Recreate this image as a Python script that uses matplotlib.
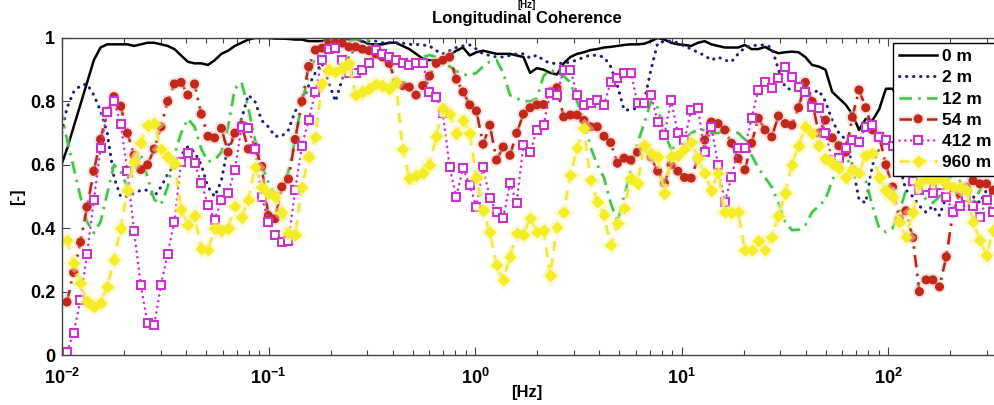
import numpy as np
import matplotlib
matplotlib.use("Agg")
import matplotlib.pyplot as plt
import matplotlib.patheffects as pe
from matplotlib.ticker import FixedLocator, FuncFormatter, LogLocator, NullFormatter

nan = float("nan")

# Frequency bins [Hz]
freq = [0.00981, 0.01057, 0.01139, 0.01228, 0.01323, 0.01426, 0.01537, 0.01656, 0.01785, 0.01924,
        0.02073, 0.02234, 0.02408, 0.02595, 0.02797, 0.03014, 0.03249, 0.03501, 0.03773, 0.04067,
        0.04383, 0.04723, 0.05091, 0.05486, 0.05913, 0.06372, 0.06868, 0.07402, 0.07977, 0.08597,
        0.09266, 0.09979, 0.1075, 0.1159, 0.1249, 0.1346, 0.1451, 0.1564, 0.1685, 0.1816,
        0.1958, 0.2109, 0.2273, 0.2450, 0.2640, 0.2846, 0.3067, 0.3306, 0.3562, 0.3839,
        0.4138, 0.4459, 0.4805, 0.5180, 0.5582, 0.6016, 0.6483, 0.6988, 0.7531, 0.8116,
        0.8747, 0.9427, 1.015, 1.094, 1.179, 1.271, 1.369, 1.476, 1.591, 1.714,
        1.848, 1.992, 2.146, 2.313, 2.493, 2.686, 2.895, 3.120, 3.363, 3.624,
        3.906, 4.210, 4.537, 4.889, 5.270, 5.679, 6.121, 6.596, 7.109, 7.662,
        8.257, 8.899, 9.592, 10.33, 11.13, 12.00, 12.93, 13.93, 15.02, 16.19,
        17.44, 18.80, 20.26, 21.83, 23.53, 25.36, 27.33, 29.46, 31.74, 34.22,
        36.87, 39.74, 42.83, 46.16, 49.74, 53.62, 57.78, 62.27, 67.11, 72.33,
        77.96, 84.01, 90.54, 97.59, 105.1, 113.3, 122.0, 131.6, 141.8, 152.8,
        164.7, 177.4, 191.3, 206.2, 222.1, 239.4, 258.0, 278.1, 299.7, 323.0]

# Coherence for each separation
coh_0m = [0.59, 0.65, 0.72, 0.79, 0.86, 0.93, 0.97, 0.98, 0.98, 0.98,
          0.98, 0.975, 0.98, 0.985, 0.985, 0.98, 0.975, 0.965, 0.945, 0.925,
          0.92, 0.92, 0.915, 0.93, 0.95, 0.96, 0.975, 0.985, 0.995, 1.0,
          1.0, 1.0, 0.998, 0.998, 0.997, 0.995, 0.995, 0.99, 0.99, 0.99,
          0.995, 1.0, 0.998, 0.995, 0.995, 0.99, 0.98, 0.98, 0.98, 0.985,
          0.985, 0.975, 0.965, 0.95, 0.935, 0.93, 0.93, 0.935, 0.945, 0.96,
          0.97, 0.945, 0.955, 0.96, 0.955, 0.95, 0.95, 0.95, 0.945, 0.94,
          0.89, 0.905, 0.9, 0.89, 0.885, 0.92, 0.94, 0.95, 0.955, 0.962,
          0.965, 0.97, 0.972, 0.975, 0.978, 0.98, 0.98, 0.982, 0.99, 1.0,
          0.995, 0.985, 0.98, 0.978, 0.975, 0.985, 0.99, 0.98, 0.975, 0.97,
          0.97, 0.97, 0.978, 0.965, 0.965, 0.972, 0.96, 0.952, 0.955, 0.957,
          0.955, 0.94, 0.915, 0.91, 0.9, 0.83, 0.81, 0.79, 0.76, 0.71,
          0.745, 0.74, 0.775, 0.84, 0.84, 0.8, 0.78, 0.76, 0.77, 0.79,
          0.8, 0.78, 0.76, 0.75, 0.74, 0.76, 0.78, 0.77, 0.75, 0.74]

coh_2m = [0.68, 0.78, 0.83, 0.85, 0.855, 0.82, 0.77, 0.70, 0.56, 0.50,
          0.50, 0.51, 0.52, 0.52, 0.50, 0.53, 0.57, 0.60, 0.63, 0.657,
          0.64, 0.60, 0.53, 0.50, 0.55, 0.66, 0.70, 0.745, 0.82, 0.80,
          0.74, 0.72, 0.69, 0.69, 0.71, 0.77, 0.79, 0.85, 0.89, 0.92,
          0.86, 0.80, 0.87, 0.94, 0.97, 0.99, 0.99, 0.99, 0.985, 0.985,
          0.985, 0.984, 0.98, 0.98, 0.978, 0.975, 0.96, 0.95, 0.96, 0.97,
          0.975, 0.978, 0.965, 0.95, 0.945, 0.94, 0.94, 0.945, 0.95, 0.95,
          0.937, 0.946, 0.93, 0.92, 0.92, 0.92, 0.925, 0.93, 0.94, 0.946,
          0.945, 0.94, 0.91, 0.85, 0.773, 0.773, 0.78, 0.80, 0.90, 0.984,
          0.99, 0.99, 0.985, 0.975, 0.965, 0.955, 0.945, 0.93, 0.94, 0.93,
          0.925, 0.95, 0.97, 0.975, 0.978, 0.978, 0.97, 0.90, 0.845, 0.835,
          0.835, 0.83, 0.826, 0.835, 0.80, 0.74, 0.70, 0.68, 0.60, 0.49,
          0.48, 0.60, 0.65, 0.68, 0.66, 0.60, 0.52, 0.50, 0.47, 0.45,
          0.47, 0.44, 0.50, 0.53, 0.55, 0.52, 0.50, 0.48, 0.52, 0.50]

coh_12m = [0.78, 0.68, 0.59, 0.50, 0.42, 0.385, 0.42, 0.51, 0.60, 0.58,
           0.53, 0.58, 0.635, 0.56, 0.49, 0.475, 0.53, 0.63, 0.70, 0.745,
           0.72, 0.65, 0.61, 0.615, 0.64, 0.72, 0.84, 0.86, 0.78, 0.68,
           0.60, 0.545, 0.505, 0.52, 0.58, 0.68, 0.80, 0.88, 0.94, 0.965,
           0.98, 0.985, 0.99, 0.99, 0.995, 1.0, 0.99, 0.975, 0.96, 0.95,
           0.935, 0.93, 0.925, 0.93, 0.94, 0.946, 0.94, 0.925, 0.91, 0.895,
           0.885, 0.883, 0.89, 0.91, 0.925, 0.93, 0.89, 0.82, 0.81, 0.80,
           0.80, 0.81, 0.88, 0.90, 0.89, 0.88, 0.86, 0.80, 0.74, 0.656,
           0.60, 0.56, 0.48, 0.42, 0.50, 0.584, 0.67, 0.73, 0.80, 0.78,
           0.70, 0.65, 0.66, 0.68, 0.70, 0.71, 0.71, 0.70, 0.70, 0.71,
           0.71, 0.70, 0.68, 0.63, 0.59, 0.56, 0.53, 0.48, 0.42, 0.394,
           0.395, 0.41, 0.45, 0.47, 0.49, 0.55, 0.60, 0.62, 0.60, 0.58,
           0.55, 0.47, 0.40, 0.388, 0.40, 0.45, 0.52, 0.55, 0.52, 0.49,
           0.48, 0.50, 0.55, 0.57, 0.55, 0.50, 0.48, 0.52, 0.55, 0.53]

coh_54m = [nan, 0.167, 0.26, 0.356, 0.467, 0.58, 0.68, 0.765, 0.815, 0.785,
           0.70, 0.63, 0.585, 0.60, 0.65, 0.72, 0.80, 0.855, 0.86, 0.82,
           0.855, 0.76, 0.69, 0.685, 0.715, 0.64, 0.70, 0.725, 0.65, 0.655,
           0.595, 0.44, 0.43, 0.53, 0.555, 0.68, 0.80, 0.91, 0.962, 0.968,
           0.98, 0.984, 0.984, 0.972, 0.972, 0.965, 0.96, 0.95, 0.94, 0.92,
           0.86, 0.85, 0.845, 0.82, 0.85, 0.88, 0.92, 0.93, 0.94, 0.87,
           0.83, 0.789, 0.77, 0.665, 0.725, 0.615, 0.656, 0.63, 0.70, 0.76,
           0.78, 0.789, 0.79, 0.83, 0.843, 0.751, 0.757, 0.757, 0.74, 0.72,
           0.72, 0.69, 0.67, 0.605, 0.621, 0.615, 0.64, 0.656, 0.625, 0.58,
           0.542, 0.60, 0.58, 0.56, 0.558, 0.62, 0.678, 0.735, 0.73, 0.71,
           0.668, 0.62, 0.584, 0.668, 0.747, 0.71, 0.688, 0.754, 0.73, 0.725,
           0.78, 0.86, 0.80, 0.70, 0.741, 0.685, 0.66, 0.64, 0.75, 0.836,
           0.78, 0.71, 0.69, 0.60, 0.53, 0.43, 0.455, 0.37, 0.20, 0.237,
           0.237, 0.215, 0.31, 0.45, 0.51, 0.53, 0.55, 0.54, 0.54, 0.52]

coh_412m = [nan, 0.01, 0.07, 0.173, 0.32, 0.489, 0.653, 0.767, 0.80, 0.73,
            0.58, 0.39, 0.22, 0.10, 0.095, 0.22, 0.32, 0.42, 0.61, 0.637,
            0.605, 0.542, 0.473, 0.426, 0.489, 0.51, 0.584, 0.72, 0.715, 0.65,
            0.50, 0.42, 0.38, 0.356, 0.36, 0.52, 0.66, 0.74, 0.83, 0.93,
            0.965, 0.97, 0.93, 0.89, 0.89, 0.90, 0.92, 0.962, 0.95, 0.94,
            0.93, 0.92, 0.915, 0.92, 0.92, 0.83, 0.815, 0.763, 0.593, 0.50,
            0.59, 0.536, 0.467, 0.593, 0.495, 0.451, 0.432, 0.542, 0.48, 0.662,
            0.64, 0.71, 0.726, 0.826, 0.82, 0.90, 0.90, 0.82, 0.789, 0.795,
            0.804, 0.789, 0.86, 0.874, 0.89, 0.89, 0.795, 0.795, 0.82, 0.735,
            0.694, 0.804, 0.70, 0.678, 0.773, 0.78, 0.64, 0.72, 0.60, 0.483,
            0.56, 0.653, 0.653, 0.748, 0.836, 0.86, 0.843, 0.874, 0.91, 0.877,
            0.846, 0.83, 0.782, 0.779, 0.70, 0.615, 0.62, 0.653, 0.678, 0.672,
            0.72, 0.725, 0.688, 0.678, 0.66, 0.62, 0.58, 0.55, 0.52, 0.53,
            0.51, 0.536, 0.50, 0.45, 0.47, 0.50, 0.47, 0.435, 0.489, 0.45]

coh_960m = [nan, 0.363, 0.29, 0.227, 0.17, 0.152, 0.165, 0.215, 0.30, 0.40,
            0.52, 0.61, 0.67, 0.725, 0.73, 0.65, 0.625, 0.605, 0.46, 0.41,
            0.44, 0.335, 0.331, 0.40, 0.394, 0.40, 0.47, 0.435, 0.489, 0.593,
            0.53, 0.51, 0.50, 0.45, 0.385, 0.379, 0.53, 0.625, 0.688, 0.857,
            0.90, 0.893, 0.905, 0.92, 0.82, 0.83, 0.84, 0.855, 0.85, 0.84,
            0.86, 0.65, 0.558, 0.565, 0.575, 0.60, 0.69, 0.779, 0.76, 0.70,
            0.741, 0.70, 0.56, 0.457, 0.388, 0.284, 0.237, 0.31, 0.385, 0.379,
            0.432, 0.388, 0.394, 0.252, 0.404, 0.451, 0.568, 0.653, 0.716, 0.552,
            0.483, 0.442, 0.347, 0.416, 0.464, 0.558, 0.542, 0.662, 0.637, 0.625,
            0.51, 0.625, 0.63, 0.65, 0.672, 0.62, 0.574, 0.52, 0.574, 0.451,
            0.45, 0.451, 0.331, 0.331, 0.36, 0.331, 0.372, 0.44, 0.51, 0.60,
            0.66, 0.72, 0.70, 0.66, 0.62, 0.605, 0.59, 0.561, 0.584, 0.574,
            0.63, 0.637, 0.56, 0.52, 0.50, 0.42, 0.372, 0.45, 0.542, 0.56,
            0.55, 0.56, 0.54, 0.53, 0.53, 0.52, 0.42, 0.363, 0.315, 0.394]

labels = ["0 m", "2 m", "12 m", "54 m", "412 m", "960 m"]
yticks = [0, 0.2, 0.4, 0.6, 0.8, 1]

plt.rcParams["font.family"] = ["Liberation Sans", "DejaVu Sans"]
plt.rcParams["font.weight"] = "bold"
plt.rcParams["mathtext.fontset"] = "custom"
plt.rcParams["mathtext.rm"] = "Liberation Sans:bold"
plt.rcParams["mathtext.bf"] = "Liberation Sans:bold"

fig = plt.figure(figsize=(9.95, 4.05), dpi=100)
# axes runs past the right edge of the picture (cropped original)
ax = fig.add_axes([62 / 995, 50 / 405, 950 / 995, 317 / 405])


def glow(color, w):
    # soft halo like the blurred original
    return [pe.Stroke(linewidth=w, foreground=color, alpha=0.45), pe.Normal()]


dotted = (0, (0.1, 2.2))
dashdot = (0, (5, 2.5, 1, 2.5))
ax.plot(freq, coh_0m, color="black", lw=1.8, label=labels[0])
ax.plot(freq, coh_2m, color="#1f1f78", lw=2.2, ls=dotted,
        dash_capstyle="round", label=labels[1])
ax.plot(freq, coh_12m, color="#46c046", lw=1.8, ls=dashdot, label=labels[2],
        path_effects=glow("#c4efc4", 4))
ax.plot(freq, coh_54m, color="#b3281c", lw=1.8, ls=dashdot, marker="o", ms=5.5,
        mfc="#c0281c", mec="#c0281c", label=labels[3],
        path_effects=glow("#f2c4bc", 4))
ax.plot(freq, coh_412m, color="#cc33cc", lw=1.8, ls=dotted,
        dash_capstyle="round", marker="s", ms=5.5, mfc="white", mec="#cc33cc",
        mew=1.5, label=labels[4])
ax.plot(freq, coh_960m, color="#f0e640", lw=1.8, ls=(0, (4, 3)), marker="D",
        ms=5.5, mfc="#f5ec28", mec="#f5ec28", label=labels[5],
        path_effects=glow("#fbf6a8", 5))

ax.set_xscale("log")
ax.set_xlim(0.01, 10 ** 2.6)
ax.set_ylim(0, 1)

ax.xaxis.set_major_locator(LogLocator(base=10, numticks=12))
ax.xaxis.set_minor_locator(LogLocator(base=10, subs=np.arange(2, 10), numticks=12))
ax.xaxis.set_minor_formatter(NullFormatter())
ax.xaxis.set_major_formatter(FuncFormatter(
    lambda v, p: r"$\mathbf{10^{%d}}$" % int(round(np.log10(v)))))
ax.yaxis.set_major_locator(FixedLocator(yticks))
ax.yaxis.set_major_formatter(FuncFormatter(lambda v, p: "%g" % v))

ax.tick_params(which="both", direction="in", top=True, right=True,
               color="#444444", labelsize=13)
ax.tick_params(which="major", length=6, width=0.8)
ax.tick_params(which="minor", length=3.5, width=0.8)
ax.tick_params(axis="x", pad=9)
ax.tick_params(axis="y", pad=5)
for s in ax.spines.values():
    s.set_color("#444444")
    s.set_linewidth(1)

leg = ax.legend(loc="upper left", bbox_to_anchor=((893 - 62) / 950, (355 - 43) / 317),
                borderaxespad=0, fontsize=12.5, frameon=True, fancybox=False,
                edgecolor="black", framealpha=1, handlelength=2.2,
                handletextpad=0.3, labelspacing=0.35, borderpad=0.35, numpoints=1)
leg.get_frame().set_linewidth(1)

fig.text(527 / 995, 1.0, "[Hz]", ha="center", va="top", fontsize=7, fontweight="bold")
fig.text(527 / 995, 1 - 19 / 405, "Longitudinal Coherence", ha="center", va="center",
         fontsize=12, fontweight="bold")
fig.text(527 / 995, 1 - 393 / 405, "[Hz]", ha="center", va="center", fontsize=12, fontweight="bold")
fig.text(18 / 995, 1 - 197 / 405, "[-]", ha="center", va="center", rotation=90,
         fontsize=12, fontweight="bold")

fig.savefig("out.png", dpi=100)
plt.close(fig)
